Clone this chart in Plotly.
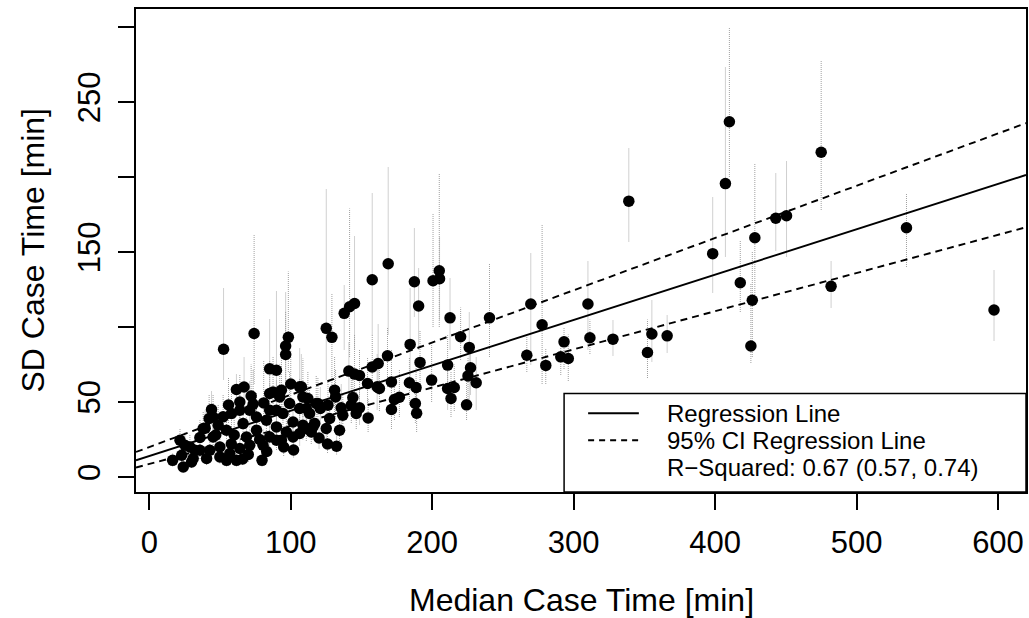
import plotly.graph_objects as go

# ---- data (minutes) ----
median_time = [
    339.0, 410.1, 407.3, 475.0, 398.3, 442.9, 450.5, 428.1, 417.8, 426.3, 425.3, 535.3,
    482.0, 597.2, 310.1, 311.5, 293.2, 296.2, 290.9, 327.8, 355.3, 352.2, 366.1,
    240.5, 269.7, 277.7, 266.9, 280.3, 220.1, 226.2, 212.6, 200.6, 205.0, 205.2, 187.4,
    190.4, 168.9, 157.6, 125.1, 129.1, 137.8, 141.6, 145.1, 184.4, 199.6, 210.9, 227.1,
    225.3, 231.1, 215.6, 213.3, 224.3, 210.9, 191.4, 183.9, 188.6, 188.1, 189.0, 168.4,
    171.2, 176.8, 173.3, 171.2, 157.6, 161.8, 141.1, 145.1, 148.6, 154.3, 161.1, 162.7,
    154.7, 132.4, 143.9, 142.8, 148.6, 146.3, 135.7, 136.8, 134.5, 131.0, 131.7, 127.5,
    125.1, 119.2, 120.9, 114.5, 111.0, 112.1, 107.5, 108.6, 116.9, 126.3,
    52.5, 74.1, 98.3, 96.4, 96.4, 85.1, 89.9, 61.6, 106.3, 108.6, 44.0, 42.3, 39.5, 35.8,
    21.7, 25.2, 16.5, 24.0, 29.9, 22.9, 32.2, 40.5, 79.7, 64.0, 73.4, 80.9, 87.5, 89.9,
    93.4, 52.2, 58.1, 48.7, 54.6, 66.3, 75.8, 89.9, 89.9, 101.6, 101.6, 111.0, 94.5, 45.1,
    38.1, 28.7, 31.0, 42.8, 49.9, 56.9, 64.0, 71.0, 61.6, 54.6, 68.7, 80.4, 35.8, 49.9,
    85.1, 96.9, 106.3, 115.7, 75.8, 82.8, 64.0, 71.0, 45.1, 85.1, 92.2, 99.2, 106.3, 113.3,
    93.4, 118.0, 85.1, 60.0, 70.0, 78.0, 58.0, 47.0, 66.0, 83.0, 95.0, 102.0, 120.0, 126.0,
    72.0, 67.0, 56.0, 100.0,
]
sd_time = [
    183.9, 236.8, 195.6, 216.5, 148.9, 172.5, 174.2, 159.5, 129.5, 117.8, 87.3, 166.2,
    127.1, 111.3, 115.3, 92.8, 90.1, 79.0, 80.1, 91.9, 95.3, 83.0, 94.1,
    106.1, 115.3, 101.5, 81.2, 74.4, 93.5, 86.4, 106.1, 130.8, 137.5, 132.2, 130.2,
    114.0, 142.2, 131.5, 99.1, 93.1, 109.1, 113.5, 115.7, 88.4, 64.6, 74.6, 72.8,
    67.4, 62.8, 59.7, 52.3, 48.1, 59.0, 76.4, 62.8, 59.7, 49.0, 42.5, 80.8,
    63.4, 53.2, 51.7, 45.0, 73.4, 75.7, 70.6, 68.6, 67.7, 62.3, 60.1, 59.0,
    39.4, 20.5, 53.0, 47.9, 46.1, 42.3, 46.1, 41.2, 31.2, 57.9, 53.4, 39.0,
    32.3, 49.0, 45.7, 30.0, 45.7, 52.3, 60.1, 34.5, 35.6, 47.9,
    85.2, 95.7, 93.1, 87.3, 81.7, 72.1, 71.2, 58.3, 60.1, 53.4, 45.0, 39.0, 32.5, 26.3,
    24.5, 21.2, 11.1, 6.7, 10.0, 14.5, 17.8, 12.3, 11.1, 50.0, 48.5, 49.4, 56.7, 44.5,
    24.5, 40.1, 42.3, 34.5, 31.2, 35.6, 31.2, 33.4, 24.5, 36.7, 26.7, 32.3, 42.3, 26.7,
    32.3, 20.0, 12.3, 17.8, 20.0, 15.6, 19.0, 21.2, 11.1, 11.1, 26.7, 21.2, 17.8, 13.4,
    26.7, 30.0, 29.0, 33.4, 40.0, 37.8, 44.5, 44.5, 40.0, 55.7, 53.4, 49.0, 45.7, 42.3,
    57.9, 49.0, 44.5, 28.0, 15.0, 25.0, 22.0, 28.0, 12.0, 17.0, 20.0, 18.0, 26.0, 22.0,
    54.0, 60.0, 48.0, 62.0,
]
sd_low = [
    157, 200, 147, 178, 123, 151, 147, 120, 110, 80, 76, 140,
    113, 91, 85, 82, 72, 64, 68, 81, 77, 66, 83,
    80, 75, 62, 70, 62, 78, 47, 85, 100, 100, 105, 107,
    85, 95, 95, 65, 60, 85, 80, 85, 65, 50, 58, 55,
    52, 45, 44, 40, 38, 45, 58, 48, 40, 36, 30, 60,
    48, 40, 38, 32, 58, 55, 55, 50, 52, 48, 45, 44,
    30, 15, 40, 36, 35, 32, 35, 30, 24, 42, 40, 30,
    25, 36, 35, 22, 34, 40, 45, 25, 27, 36,
    65, 62, 70, 65, 60, 55, 55, 45, 45, 40, 35, 30, 25, 20,
    18, 15, 7, 4, 6, 10, 12, 8, 7, 38, 36, 38, 42, 33,
    17, 30, 32, 26, 24, 26, 23, 25, 18, 27, 20, 24, 32, 20,
    24, 14, 8, 12, 14, 10, 13, 15, 7, 7, 19, 15, 12, 9,
    19, 22, 21, 25, 30, 28, 33, 33, 30, 42, 40, 36, 34, 32,
    44, 36, 33, 20, 10, 18, 16, 20, 8, 12, 14, 13, 19, 16,
    40, 45, 36, 46,
]
sd_high = [
    219, 300, 273, 278, 187, 203, 211, 209, 158, 150, 129, 189,
    144, 138, 144, 105, 100, 95, 92, 105, 118, 105, 108,
    142, 149, 168, 94, 86, 113, 110, 133, 176, 202, 160, 166,
    139, 207, 189, 192, 122, 128, 179, 161, 126, 89, 95, 88,
    80, 80, 75, 70, 65, 78, 98, 80, 75, 62, 58, 100,
    85, 72, 66, 58, 95, 102, 90, 95, 85, 80, 82, 78,
    52, 30, 70, 65, 60, 58, 62, 55, 42, 80, 72, 52,
    44, 66, 60, 42, 62, 70, 82, 48, 50, 64,
    126, 162, 137, 123, 110, 105, 124, 69, 86, 79, 57, 55, 45, 38,
    32, 30, 16, 12, 16, 20, 26, 20, 18, 68, 72, 78, 80, 65,
    35, 55, 60, 48, 44, 52, 45, 48, 36, 52, 40, 46, 62, 38,
    44, 28, 20, 26, 30, 24, 28, 32, 18, 18, 40, 32, 26, 20,
    40, 44, 42, 48, 56, 54, 62, 64, 55, 78, 75, 70, 66, 60,
    82, 68, 62, 40, 24, 36, 32, 40, 18, 26, 30, 28, 38, 34,
    75, 80, 66, 84,
]

# regression line and 95% CI lines: [fit, upper, lower]
reg_intercept = [13.94, 19.97, 8.69]
reg_slope = [0.3024, 0.3484, 0.2546]

x_ticks = [0, 100, 200, 300, 400, 500, 600]
y_ticks = [0, 50, 100, 150, 200, 250, 300]
y_ticktext = ["0", "50", "", "150", "", "250", ""]

legend_labels = ["Regression Line", "95% CI Regression Line",
                 "R\u2212Squared: 0.67 (0.57, 0.74)"]

x_range = [-9.4, 619.8]
y_range = [-10, 312]

FONT = "Liberation Sans, Arial, Helvetica, sans-serif"

fig = go.Figure()

# error bars (gray dotted vertical segments)
bx, by = [], []
for xv, lo, hi in zip(median_time, sd_low, sd_high):
    bx += [xv, xv, None]
    by += [lo, hi, None]
fig.add_trace(go.Scatter(x=bx, y=by, mode="lines", hoverinfo="skip",
                         line=dict(color="#a0a0a0", width=1, dash="1px,1px"),
                         showlegend=False))

# points
fig.add_trace(go.Scatter(x=median_time, y=sd_time, mode="markers",
                         marker=dict(color="black", size=11.5, line=dict(width=0)),
                         showlegend=False))

# regression lines
styles = ["solid", "7px,5px", "7px,5px"]
for a, b, d in zip(reg_intercept, reg_slope, styles):
    fig.add_trace(go.Scatter(x=x_range, y=[a + b * x_range[0], a + b * x_range[1]],
                             mode="lines", line=dict(color="black", width=1.9, dash=d),
                             showlegend=False, hoverinfo="skip"))

# legend rows (paper y of each row centre)
row_y = [0.1631, 0.1072, 0.0512]

shapes = [
    dict(type="rect", xref="paper", yref="paper", x0=0.481, x1=1.0, y0=0.0, y1=0.204,
         line=dict(color="black", width=1.5), fillcolor="white", layer="above"),
    dict(type="line", xref="paper", yref="paper", x0=0.508, x1=0.565, y0=row_y[0], y1=row_y[0],
         line=dict(color="black", width=1.9), layer="above"),
    dict(type="line", xref="paper", yref="paper", x0=0.508, x1=0.565, y0=row_y[1], y1=row_y[1],
         line=dict(color="black", width=1.9, dash="6px,5px"), layer="above"),
]
annotations = []
for lab, yy in zip(legend_labels, row_y):
    annotations.append(dict(text=lab, xref="paper", yref="paper", x=0.594, y=yy,
                            xanchor="left", yanchor="middle", showarrow=False,
                            font=dict(family=FONT, size=24, color="black")))
# axis titles
annotations.append(dict(text="Median Case Time [min]", xref="paper", yref="paper",
                        x=0.5, y=0, yshift=-108, xanchor="center", yanchor="middle",
                        showarrow=False, font=dict(family=FONT, size=32, color="black")))
annotations.append(dict(text="SD Case Time [min]", xref="paper", yref="paper",
                        x=0, y=0.5, xshift=-104, xanchor="center", yanchor="middle",
                        textangle=-90, showarrow=False,
                        font=dict(family=FONT, size=32, color="black")))

fig.update_layout(
    width=1029, height=618,
    margin=dict(l=136, r=1, t=9, b=126),
    paper_bgcolor="white", plot_bgcolor="white",
    shapes=shapes, annotations=annotations,
    font=dict(family=FONT, color="black"),
    xaxis=dict(range=x_range, tickvals=x_ticks, ticks="outside", ticklen=16, tickwidth=1.5,
               tickcolor="black", showline=True, mirror=True, linecolor="black", linewidth=1.5,
               showgrid=False, zeroline=False, tickfont=dict(size=31, family=FONT),
               ticklabelstandoff=6),
    yaxis=dict(range=y_range, tickvals=y_ticks, ticktext=y_ticktext, ticks="outside",
               ticklen=16, tickwidth=1.5, tickcolor="black", showline=True, mirror=True,
               linecolor="black", linewidth=1.5, showgrid=False, zeroline=False,
               tickangle=-90, tickfont=dict(size=31, family=FONT), ticklabelstandoff=6),
)

fig.write_html("out.html")
